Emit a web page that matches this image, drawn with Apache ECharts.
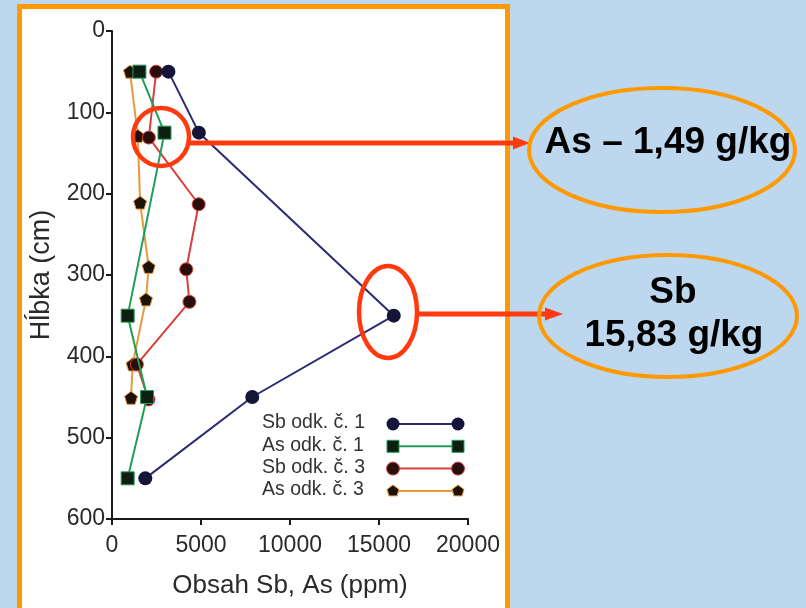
<!DOCTYPE html>
<html>
<head>
<meta charset="utf-8">
<script src="https://cdn.jsdelivr.net/npm/echarts@6/dist/echarts.min.js"></script>
<style>
html,body{margin:0;padding:0;background:#bdd7ee;}
#c{width:806px;height:608px;}
</style>
</head>
<body>
<div id="c"></div>
<script>
// ---- data (depth in cm, content in ppm) ----
var seriesNames = ['Sb odk. č. 1', 'As odk. č. 1', 'Sb odk. č. 3', 'As odk. č. 3'];
var sb1Depth = [50, 125, 350, 450, 550];
var sb1Value = [3170, 4880, 15830, 7880, 1870];
var as1Depth = [50, 125, 350, 450, 550];
var as1Value = [1540, 2950, 880, 1970, 880];
var sb3Depth = [50, 131, 213, 293, 333, 410, 453];
var sb3Value = [2480, 2070, 4870, 4170, 4350, 1395, 2050];
var as3Depth = [50, 129, 211, 290, 330, 410, 451];
var as3Value = [1010, 1450, 1580, 2060, 1910, 1160, 1070];
var xTicks = [0, 5000, 10000, 15000, 20000];
var yTicks = [0, 100, 200, 300, 400, 500, 600];
var annoAs = 'As – 1,49 g/kg';
var annoSb = ['Sb', '15,83 g/kg'];

var lineColors = ['#2b2a72', '#1f9e55', '#d8403c', '#e79a3c'];
var markColors = ['#15153a', '#0e1f12', '#2a0e0e', '#1c1208'];
var pentagon = 'path://M50,0 L100,38 L81,100 L19,100 L0,38 Z';
var symbols = ['circle', 'rect', 'circle', pentagon];
var sizes = [14, 13, 13, 13];

function pairs(vals, depths) { return vals.map(function (v, i) { return [v, depths[i]]; }); }
var allData = [pairs(sb1Value, sb1Depth), pairs(as1Value, as1Depth), pairs(sb3Value, sb3Depth), pairs(as3Value, as3Depth)];

var FONT = 'Liberation Sans, Arial, sans-serif';

var series = seriesNames.map(function (n, i) {
  return {
    name: n, type: 'line', data: allData[i],
    symbol: symbols[i], symbolSize: sizes[i],
    lineStyle: { color: lineColors[i], width: 2 },
    itemStyle: { color: markColors[i], borderColor: lineColors[i], borderWidth: i === 0 ? 0 : 1 },
    z: 10 - i,
    animation: false
  };
});

// legend drawn as graphic (markers at both ends of the line sample)
var legendEls = [];
seriesNames.forEach(function (n, i) {
  var y = 424 + i * 22.3;
  legendEls.push({ type: 'text', left: 262, top: y - 11, z: 50,
    style: { text: n, font: '19.5px ' + FONT, fill: '#333' } });
  legendEls.push({ type: 'line', z: 50, shape: { x1: 393, y1: y, x2: 458, y2: y },
    style: { stroke: lineColors[i], lineWidth: 2 } });
  [393, 458].forEach(function (x) {
    var el;
    if (i === 1) el = { type: 'rect', shape: { x: x - 6, y: y - 6, width: 12, height: 12 } };
    else if (i === 3) el = { type: 'polygon', shape: { points: [[x, y - 6], [x + 6, y - 1.5], [x + 4, y + 5], [x - 4, y + 5], [x - 6, y - 1.5]] } };
    else el = { type: 'circle', shape: { cx: x, cy: y, r: 6.5 } };
    el.z = 51;
    el.style = { fill: markColors[i], stroke: i === 0 ? null : lineColors[i], lineWidth: 1 };
    legendEls.push(el);
  });
});

var RED = '#ff3a0e';
var ORANGE = '#ff9900';
var graphics = [
  { type: 'rect', z: -100, shape: { x: 19.5, y: 6.5, width: 488, height: 640 },
    style: { fill: '#ffffff', stroke: ORANGE, lineWidth: 5 } },
  // red highlight ellipses
  { type: 'ellipse', z: 60, shape: { cx: 161, cy: 137, rx: 28, ry: 29 },
    style: { fill: null, stroke: RED, lineWidth: 4.5 } },
  { type: 'ellipse', z: 60, shape: { cx: 388, cy: 312, rx: 29, ry: 46 },
    style: { fill: null, stroke: RED, lineWidth: 4.5 } },
  // arrows
  { type: 'line', z: 60, shape: { x1: 189, y1: 143, x2: 516, y2: 143 },
    style: { stroke: RED, lineWidth: 5 } },
  { type: 'polygon', z: 60, shape: { points: [[513, 136.5], [530, 143], [513, 149.5]] },
    style: { fill: RED } },
  { type: 'line', z: 60, shape: { x1: 417, y1: 314, x2: 548, y2: 314 },
    style: { stroke: RED, lineWidth: 5 } },
  { type: 'polygon', z: 60, shape: { points: [[545, 307.5], [563, 314], [545, 320.5]] },
    style: { fill: RED } },
  // orange callouts
  { type: 'ellipse', z: 60, shape: { cx: 662, cy: 150, rx: 133, ry: 62 },
    style: { fill: null, stroke: ORANGE, lineWidth: 4 } },
  { type: 'ellipse', z: 60, shape: { cx: 668, cy: 316, rx: 129, ry: 61 },
    style: { fill: null, stroke: ORANGE, lineWidth: 4 } },
  { type: 'text', z: 61, x: 668, y: 143,
    style: { text: annoAs, font: 'bold 37px ' + FONT, fill: '#000', textAlign: 'center', textVerticalAlign: 'middle' } },
  { type: 'text', z: 61, x: 673, y: 293,
    style: { text: annoSb[0], font: 'bold 37px ' + FONT, fill: '#000', textAlign: 'center', textVerticalAlign: 'middle' } },
  { type: 'text', z: 61, x: 674, y: 336,
    style: { text: annoSb[1], font: 'bold 37px ' + FONT, fill: '#000', textAlign: 'center', textVerticalAlign: 'middle' } }
].concat(legendEls);

var chart = echarts.init(document.getElementById('c'), null, { renderer: 'canvas', devicePixelRatio: 1 });
chart.setOption({
  backgroundColor: '#bdd7ee',
  animation: false,
  grid: { left: 112, right: 338, top: 31, bottom: 89, containLabel: false },
  xAxis: {
    type: 'value', min: xTicks[0], max: xTicks[xTicks.length - 1], interval: xTicks[1] - xTicks[0],
    position: 'bottom',
    name: 'Obsah Sb, As (ppm)', nameLocation: 'middle', nameGap: 54,
    nameTextStyle: { fontFamily: FONT, fontSize: 26, color: '#2a2a2a' },
    axisLine: { show: true, onZero: false, lineStyle: { color: '#1a1a1a', width: 2 } },
    axisTick: { show: true, inside: false, length: 6, lineStyle: { color: '#1a1a1a', width: 2 } },
    axisLabel: { fontFamily: FONT, fontSize: 23, color: '#2a2a2a', margin: 15, formatter: function (v) { return String(v); } },
    splitLine: { show: false }
  },
  yAxis: {
    type: 'value', inverse: true, min: yTicks[0], max: yTicks[yTicks.length - 1], interval: yTicks[1] - yTicks[0],
    name: 'Hĺbka (cm)', nameLocation: 'middle', nameGap: 57, nameRotate: 90,
    nameTextStyle: { fontFamily: FONT, fontSize: 27, color: '#2a2a2a' },
    axisLine: { show: true, onZero: false, lineStyle: { color: '#1a1a1a', width: 2 } },
    axisTick: { show: true, inside: false, length: 6, lineStyle: { color: '#1a1a1a', width: 2 } },
    axisLabel: { fontFamily: FONT, fontSize: 23, color: '#2a2a2a', margin: 7, formatter: function (v) { return String(v); } },
    splitLine: { show: false }
  },
  series: series,
  graphic: graphics
});
</script>
</body>
</html>
